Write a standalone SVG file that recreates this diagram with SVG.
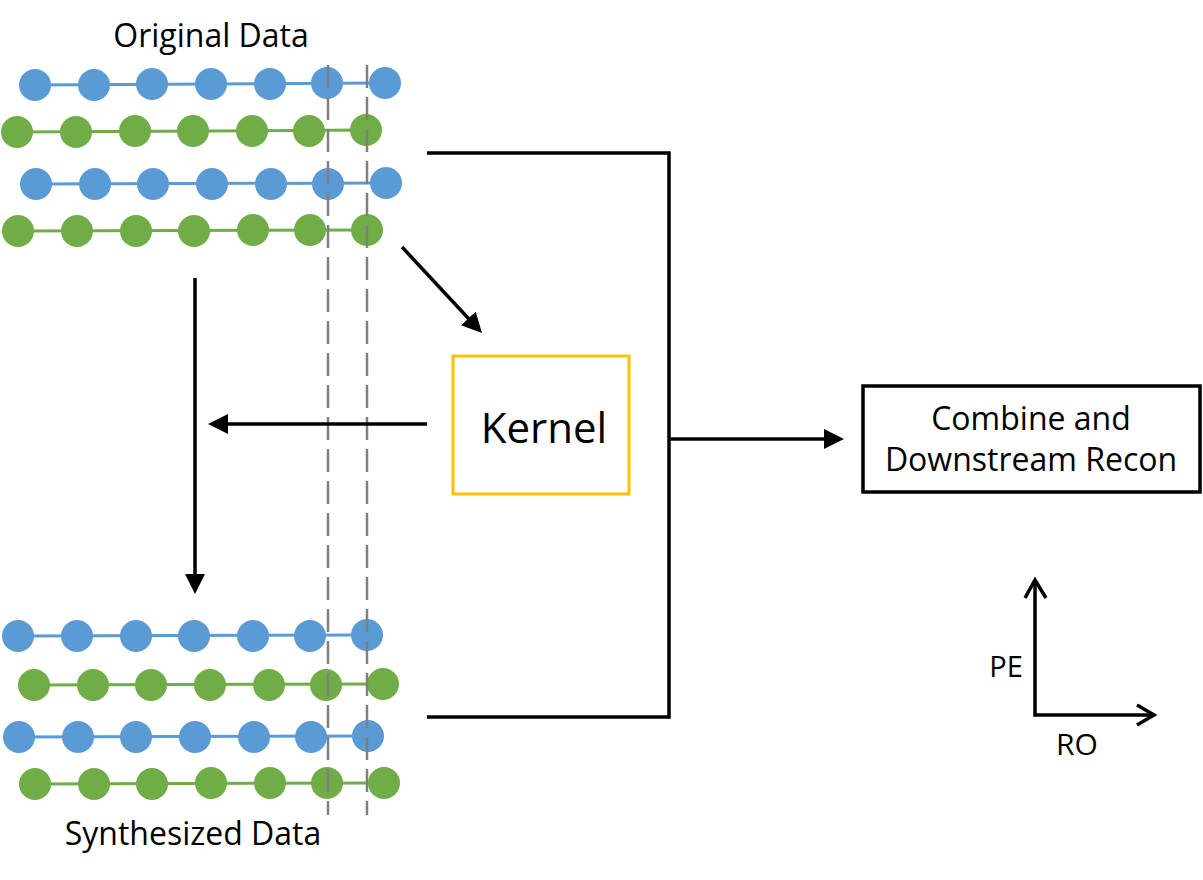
<svg xmlns="http://www.w3.org/2000/svg" width="1203" height="880" viewBox="0 0 1203 880">
<defs>
<style>
.lbl{font-family:"Open Sans","Noto Sans","Liberation Sans",sans-serif;fill:#000}
.b circle{fill:#5B9BD5}
.b polyline{stroke:#5B9BD5;stroke-width:3;fill:none}
.g circle{fill:#70AD47}
.g polyline{stroke:#70AD47;stroke-width:3;fill:none}
.dash{stroke:#7F7F7F;stroke-width:2.5;stroke-dasharray:23 9;fill:none}
.conn{stroke:#000;stroke-width:3.5;fill:none}
.arr{stroke:#000;stroke-width:3.5;fill:none;marker-end:url(#ah)}
</style>
<marker id="ah" viewBox="0 0 20 20" refX="8" refY="10" markerWidth="20" markerHeight="20" markerUnits="userSpaceOnUse" orient="auto">
<path d="M0,0 L20,10 L0,20 z" fill="#000"/>
</marker>
</defs>
<rect width="1203" height="880" fill="#fff"/>

<g id="original-data">
<text class="lbl" x="211" y="47" font-size="32" text-anchor="middle">Original Data</text>
<g class="b"><polyline points="35,85 385,83"/><circle cx="35" cy="85" r="16"/><circle cx="94" cy="85" r="16"/><circle cx="152" cy="84" r="16"/><circle cx="211" cy="84" r="16"/><circle cx="270" cy="84" r="16"/><circle cx="327" cy="83" r="16"/><circle cx="385" cy="83" r="16"/></g>
<g class="g"><polyline points="17,132 366,130"/><circle cx="17" cy="132" r="16"/><circle cx="76" cy="132" r="16"/><circle cx="135" cy="131" r="16"/><circle cx="193" cy="131" r="16"/><circle cx="252" cy="131" r="16"/><circle cx="309" cy="131" r="16"/><circle cx="366" cy="130" r="16"/></g>
<g class="b"><polyline points="36,184 386,183"/><circle cx="36" cy="184" r="16"/><circle cx="95" cy="184" r="16"/><circle cx="153" cy="184" r="16"/><circle cx="212" cy="184" r="16"/><circle cx="271" cy="184" r="16"/><circle cx="328" cy="184" r="16"/><circle cx="386" cy="183" r="16"/></g>
<g class="g"><polyline points="18,231 367,230"/><circle cx="18" cy="231" r="16"/><circle cx="77" cy="231" r="16"/><circle cx="136" cy="231" r="16"/><circle cx="194" cy="231" r="16"/><circle cx="253" cy="230" r="16"/><circle cx="310" cy="230" r="16"/><circle cx="367" cy="230" r="16"/></g>
</g>

<g id="synthesized-data">
<g class="b"><polyline points="18,636 367,635"/><circle cx="18" cy="636" r="16"/><circle cx="77" cy="636" r="16"/><circle cx="136" cy="636" r="16"/><circle cx="194" cy="636" r="16"/><circle cx="253" cy="636" r="16"/><circle cx="310" cy="636" r="16"/><circle cx="367" cy="635" r="16"/></g>
<g class="g"><polyline points="34,685 383,684"/><circle cx="34" cy="685" r="16"/><circle cx="93" cy="685" r="16"/><circle cx="151" cy="685" r="16"/><circle cx="210" cy="685" r="16"/><circle cx="269" cy="685" r="16"/><circle cx="326" cy="685" r="16"/><circle cx="383" cy="684" r="16"/></g>
<g class="b"><polyline points="19,737 368,736"/><circle cx="19" cy="737" r="16"/><circle cx="78" cy="737" r="16"/><circle cx="136" cy="737" r="16"/><circle cx="195" cy="737" r="16"/><circle cx="254" cy="737" r="16"/><circle cx="311" cy="737" r="16"/><circle cx="368" cy="736" r="16"/></g>
<g class="g"><polyline points="35,784 384,783"/><circle cx="35" cy="784" r="16"/><circle cx="94" cy="784" r="16"/><circle cx="152" cy="784" r="16"/><circle cx="211" cy="783" r="16"/><circle cx="270" cy="783" r="16"/><circle cx="327" cy="783" r="16"/><circle cx="384" cy="783" r="16"/></g>
<text class="lbl" x="193" y="845" font-size="32" text-anchor="middle">Synthesized Data</text>
</g>

<g id="dashed-guides">
<line class="dash" x1="328" y1="65" x2="328" y2="815"/>
<line class="dash" x1="367" y1="65" x2="367" y2="815"/>
</g>

<g id="kernel">
<rect x="453" y="356" width="176" height="138" fill="#fff" stroke="#FFC000" stroke-width="3"/>
<text class="lbl" x="544" y="443" font-size="42" text-anchor="middle">Kernel</text>
</g>

<g id="combine">
<rect x="863" y="386" width="337" height="106" fill="#fff" stroke="#000" stroke-width="3.5"/>
<text class="lbl" x="1031" y="430" font-size="32" text-anchor="middle">Combine and</text>
<text class="lbl" x="1031" y="471" font-size="32" text-anchor="middle">Downstream Recon</text>
</g>

<g id="connectors">
<line class="arr" x1="402" y1="247" x2="473.8" y2="324.2"/>
<line class="arr" x1="427" y1="424" x2="220" y2="424"/>
<line class="arr" x1="195" y1="278" x2="195" y2="582"/>
<polyline class="conn" points="427,153 669,153 669,717 427,717"/>
<line class="arr" x1="669" y1="439" x2="832" y2="439"/>
</g>

<g id="axes">
<polyline class="conn" points="1035,580 1035,715 1154,715"/>
<polyline class="conn" points="1025,598 1035,580 1046,598"/>
<polyline class="conn" points="1137,705 1154,715 1137,725"/>
<text class="lbl" x="1006" y="677" font-size="29" text-anchor="middle">PE</text>
<text class="lbl" x="1077" y="755" font-size="30" text-anchor="middle">RO</text>
</g>
</svg>
